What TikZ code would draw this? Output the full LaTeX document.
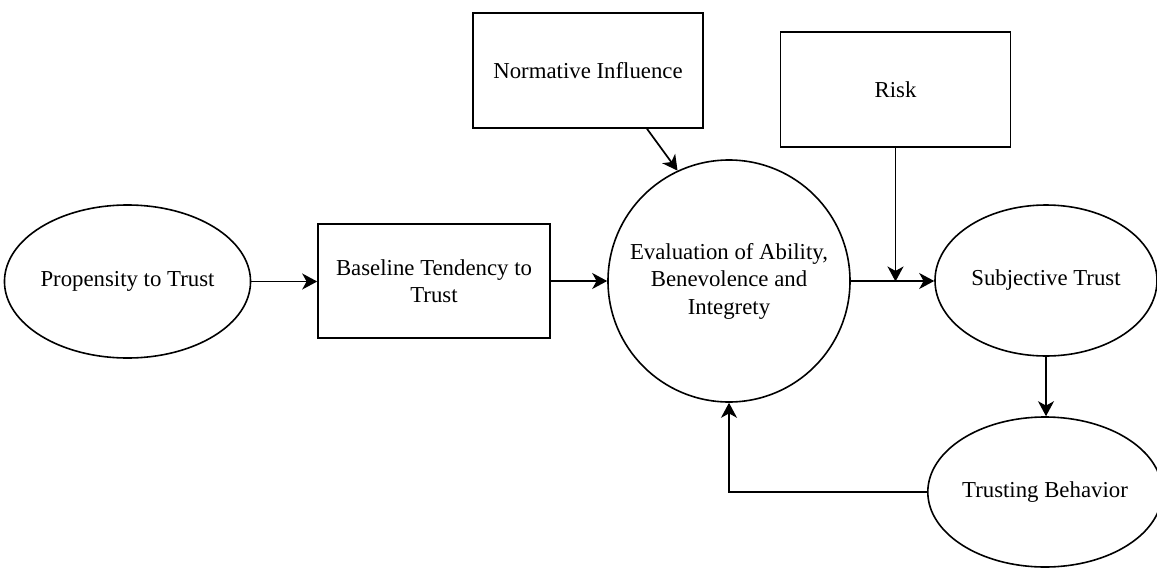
\documentclass[tikz,border=0pt]{standalone}
\usepackage{fontspec}
\setmainfont{Liberation Serif}
\usetikzlibrary{arrows.meta,shapes.geometric}
\begin{document}
\begin{tikzpicture}[x=0.5pt,y=-0.5pt,
  every node/.style={font=\fontsize{11.4}{13.75}\selectfont, align=center, inner sep=0pt, line width=0.8pt},
  boxnode/.style={draw, rectangle, minimum width=116pt, minimum height=57.5pt},
  ellnode/.style={draw, ellipse},
  arr/.style={line width=0.85pt, -{Stealth[length=7.5pt,width=8pt,inset=2.2pt]}}]
\useasboundingbox (0,0) rectangle (1157,568);
\fill[white] (0,0) rectangle (1157,568);
\node[ellnode, minimum width=115.5pt, minimum height=76.5pt] (prop) at (127.5,281.5) {Propensity to Trust};
\node[boxnode, minimum width=116pt, minimum height=57pt] (base) at (434,281) {Baseline Tendency to\\Trust};
\node[draw, circle, minimum size=121pt] (ev) at (729,281) {Evaluation of Ability,\\Benevolence and\\Integrety};
\node[boxnode, minimum width=115pt, minimum height=57.5pt] (norm) at (588,70.5) {Normative Influence};
\node[boxnode, minimum width=115pt, minimum height=57.5pt] (risk) at (895.5,89.5) {Risk};
\node[ellnode, minimum width=111pt, minimum height=75.5pt] (subj) at (1046,280.5) {Subjective Trust};
\node[ellnode, minimum width=110pt, minimum height=75pt] (trust) at (1045,492) {Trusting Behavior};
\coordinate (join) at (895.5,281.5);
\draw[arr] (prop.east) -- (base.west |- prop.east);
\draw[arr] (base.east) -- (ev.west |- base.east);
\draw[arr] (ev.east) -- (subj.west |- ev.east);
\draw[arr] (risk.south) -- (join);
\draw[arr] ([xshift=29.5pt]norm.south) -- (ev.115);
\draw[arr] (subj.south) -- (subj.south |- trust.north);
\draw[arr] (trust.west) -| (ev.south);
\end{tikzpicture}
\end{document}
